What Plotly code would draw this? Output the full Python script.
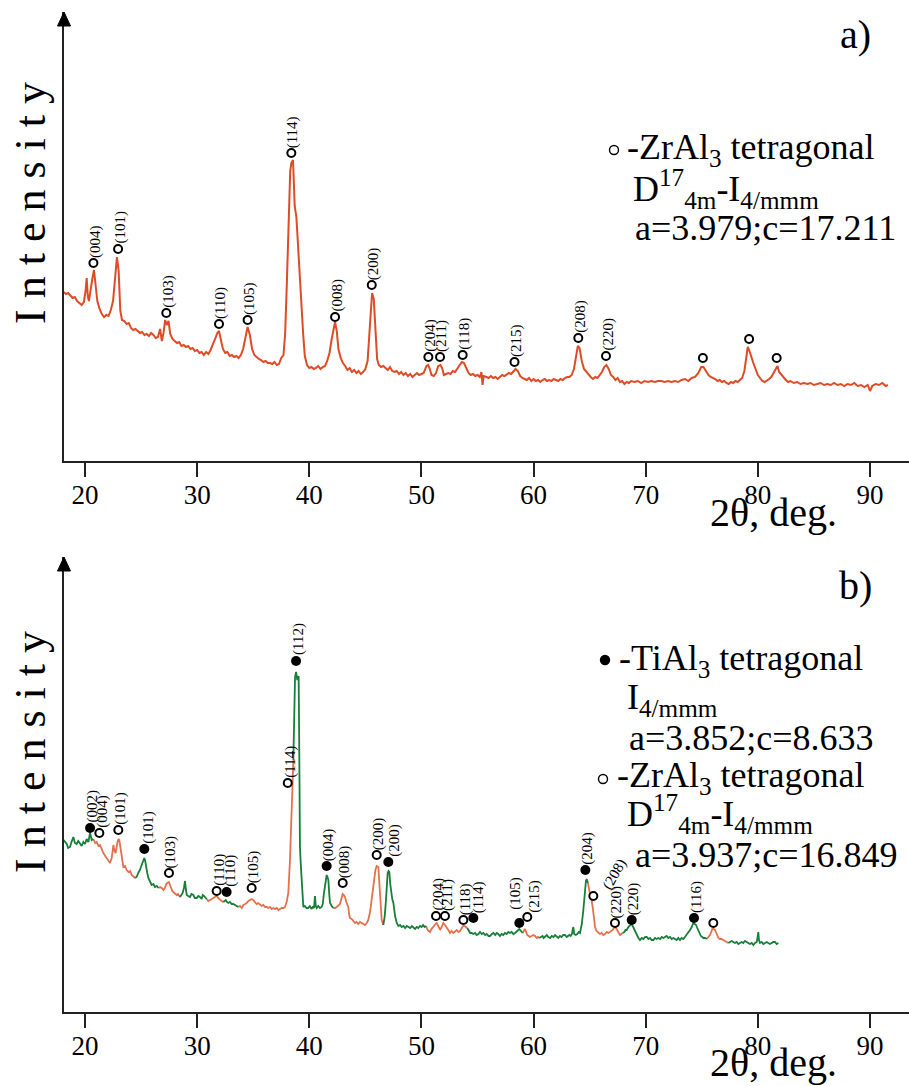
import plotly.graph_objects as go

W, H = 909, 1086

# ---------------- panel a) : ZrAl3 pattern ----------------
two_theta_a = [
    18.1, 18.3, 18.5, 18.7, 18.9, 19.1, 19.3, 19.5, 19.7, 19.9, 20.05, 20.15, 20.25, 20.35, 20.5, 20.65, 20.8,
    20.95, 21.1, 21.3, 21.5, 21.7, 21.9, 22.1, 22.3, 22.5, 22.7, 22.85, 23.0, 23.15, 23.3, 23.5, 23.7, 23.9,
    24.1, 24.3, 24.5, 24.7, 24.9, 25.1, 25.3, 25.5, 25.7, 25.9, 26.1, 26.3, 26.5, 26.7, 26.85, 27.0, 27.15,
    27.3, 27.45, 27.6, 27.8, 28.0, 28.2, 28.4, 28.6, 28.8, 29.0, 29.2, 29.4, 29.6, 29.8, 30.0, 30.2, 30.4,
    30.6, 30.8, 31.0, 31.2, 31.4, 31.6, 31.8, 31.95, 32.1, 32.3, 32.5, 32.7, 32.9, 33.1, 33.3, 33.5, 33.7,
    33.9, 34.1, 34.3, 34.5, 34.7, 34.9, 35.1, 35.3, 35.5, 35.7, 35.9, 36.1, 36.3, 36.5, 36.7, 36.9, 37.1,
    37.3, 37.5, 37.7, 37.85, 38.0, 38.1, 38.2, 38.3, 38.4, 38.55, 38.7, 38.85, 39.0, 39.15, 39.3, 39.45,
    39.6, 39.8, 40.0, 40.2, 40.4, 40.6, 40.8, 41.0, 41.2, 41.4, 41.6, 41.8, 42.0, 42.2, 42.3, 42.45, 42.6,
    42.8, 43.0, 43.2, 43.4, 43.6, 43.8, 44.0, 44.2, 44.4, 44.6, 44.8, 45.0, 45.2, 45.35, 45.5, 45.6, 45.75,
    45.9, 46.05, 46.2, 46.4, 46.6, 46.8, 47.0, 47.2, 47.4, 47.6, 47.8, 48.0, 48.2, 48.4, 48.6, 48.8, 49.0,
    49.2, 49.4, 49.6, 49.8, 50.0, 50.2, 50.45, 50.6, 50.75, 50.9, 51.1, 51.3, 51.5, 51.7, 51.85, 52.0, 52.2,
    52.4, 52.6, 52.8, 53.0, 53.2, 53.4, 53.6, 53.8, 54.0, 54.2, 54.4, 54.6, 54.8, 55.0, 55.2, 55.35, 55.45,
    55.55, 55.8, 56.0, 56.2, 56.4, 56.6, 56.8, 57.0, 57.2, 57.4, 57.6, 57.8, 58.0, 58.2, 58.4, 58.6, 58.8,
    59.0, 59.2, 59.4, 59.6, 59.8, 60.0, 60.2, 60.4, 60.6, 60.8, 61.0, 61.2, 61.4, 61.6, 61.8, 62.0, 62.2,
    62.4, 62.6, 62.8, 63.0, 63.2, 63.4, 63.6, 63.8, 63.95, 64.1, 64.3, 64.5, 64.7, 64.9, 65.1, 65.3, 65.5,
    65.7, 65.9, 66.1, 66.3, 66.5, 66.7, 66.9, 67.1, 67.3, 67.5, 67.7, 67.9, 68.1, 68.3, 68.5, 68.7, 69.0,
    69.3, 69.6, 69.9, 70.2, 70.5, 70.8, 71.1, 71.4, 71.7, 72.0, 72.3, 72.6, 72.9, 73.2, 73.5, 73.8, 74.1,
    74.4, 74.7, 74.95, 75.15, 75.35, 75.6, 75.8, 76.0, 76.2, 76.4, 76.6, 76.8, 77.0, 77.2, 77.4, 77.6, 77.8,
    78.0, 78.2, 78.4, 78.6, 78.8, 78.95, 79.1, 79.25, 79.4, 79.6, 79.8, 80.0, 80.2, 80.4, 80.6, 80.8, 81.0,
    81.2, 81.4, 81.6, 81.75, 81.9, 82.1, 82.3, 82.5, 82.7, 82.9, 83.2, 83.5, 83.8, 84.1, 84.4, 84.7, 85.0,
    85.3, 85.6, 85.9, 86.2, 86.5, 86.8, 87.1, 87.4, 87.7, 88.0, 88.3, 88.6, 88.9, 89.2, 89.5, 89.8, 90.0,
    90.2, 90.5, 90.8, 91.1, 91.4, 91.6,
]
intensity_a = [
    169, 167, 168, 165, 163, 164, 160, 158, 156, 159, 170, 183, 165, 160, 174, 182, 191,
    178, 160, 152, 147, 144, 146, 145, 151, 160, 185, 204, 190, 150, 141, 140, 137, 138,
    133, 131, 132, 130, 128, 129, 126, 127, 125, 128, 126, 123, 124, 132, 120, 128, 141,
    136, 140, 127, 122, 120, 118, 119, 115, 116, 114, 115, 112, 113, 110, 111, 108, 109,
    106, 109, 107, 111, 116, 122, 128, 130, 122, 112, 108, 109, 105, 106, 104, 105, 103,
    106, 112, 124, 134, 126, 112, 106, 104, 102, 101, 99, 100, 98, 98, 97, 99, 96,
    97, 103, 106, 128, 178, 215, 248, 290, 298, 301, 255, 244, 215, 185, 150, 128,
    105, 96, 93, 94, 92, 93, 95, 92, 94, 95, 100, 108, 122, 134, 139, 130, 112,
    103, 98, 95, 91, 93, 89, 91, 88, 90, 87, 89, 92, 100, 130, 160, 168, 162,
    130, 102, 96, 94, 95, 93, 91, 94, 90, 89, 90, 87, 89, 86, 88, 85, 87,
    84, 86, 88, 86, 87, 88, 95, 96, 92, 86, 85, 88, 95, 96, 93, 86, 87,
    88, 87, 90, 89, 92, 96, 99, 98, 93, 88, 86, 87, 85, 86, 84, 89, 76,
    85, 84, 83, 85, 83, 84, 82, 84, 86, 85, 87, 88, 87, 90, 92, 90, 85,
    83, 82, 81, 83, 80, 82, 80, 81, 79, 81, 82, 80, 81, 80, 82, 81, 80,
    82, 81, 83, 84, 84, 86, 92, 105, 115, 113, 100, 92, 89, 87, 84, 82, 84,
    83, 86, 89, 94, 96, 92, 86, 84, 81, 83, 79, 80, 77, 79, 78, 80, 79,
    80, 78, 80, 79, 80, 79, 80, 80, 79, 80, 79, 80, 79, 81, 82, 80, 83,
    84, 88, 94, 94, 90, 86, 84, 83, 82, 80, 81, 79, 80, 78, 77, 79, 78,
    80, 79, 81, 83, 90, 105, 114, 110, 104, 98, 92, 86, 83, 80, 79, 81, 82,
    84, 88, 93, 95, 89, 86, 83, 81, 79, 80, 78, 79, 77, 78, 77, 78, 76,
    77, 78, 76, 77, 76, 78, 76, 77, 75, 77, 76, 78, 75, 76, 74, 76, 70,
    75, 77, 76, 78, 75, 76,
]

# indexed ZrAl3 reflections of panel a)
peak_pos_a = [20.75, 22.95, 27.25, 31.95, 34.5, 38.4, 42.3, 45.57, 50.62, 51.66, 53.68, 58.3, 63.99, 66.46,
              75.1, 79.22, 81.68]
peak_level_a = [198, 212, 148, 137, 141, 308, 144, 176, 104, 104, 106, 99, 123, 105, 103, 122, 103]
peak_hkl_a = ["(004)", "(101)", "(103)", "(110)", "(105)", "(114)", "(008)", "(200)", "(204)", "(211)",
              "(118)", "(215)", "(208)", "(220)", "", "", ""]

# ---------------- panel b) : TiAl3 + ZrAl3 pattern ----------------
two_theta_b = [
    18.10, 18.22, 18.37, 18.5, 18.66, 18.8, 18.96, 19.1, 19.26, 19.4, 19.55, 19.7, 19.85, 20.0, 20.15, 20.3,
    20.45, 20.6, 20.74,
    20.9, 21.05, 21.2, 21.34, 21.5, 21.64, 21.8, 21.93, 22.08, 22.23, 22.38, 22.53, 22.63, 22.73, 22.88,
    22.98, 23.06, 23.21, 23.32, 23.42, 23.57, 23.72, 23.88, 24.03, 24.16, 24.3, 24.46,
    24.6, 24.75, 24.9, 25.02, 25.14, 25.29, 25.37, 25.44, 25.55, 25.65, 25.8, 25.94, 26.1, 26.24, 26.4, 26.54,
    26.7, 26.84, 27.0, 27.13, 27.24, 27.34, 27.49, 27.58, 27.67, 27.78, 27.88, 28.02, 28.17, 28.3, 28.47,
    28.6, 28.71, 28.82, 28.92, 29.0, 29.07, 29.2, 29.36, 29.5, 29.66, 29.8, 29.96, 30.1, 30.25, 30.4, 30.5,
    30.61, 30.73, 30.85,
    31.0, 31.15, 31.3, 31.44, 31.6, 31.74, 31.88, 32.04, 32.18, 32.33,
    32.45, 32.55, 32.66, 32.78, 32.92, 33.08, 33.22, 33.38, 33.5, 33.67,
    33.82, 33.98, 34.12, 34.28, 34.42, 34.57, 34.72, 34.86, 35.0, 35.16, 35.3, 35.45, 35.6, 35.75, 35.9,
    36.05, 36.2, 36.35, 36.5, 36.65, 36.79, 36.95, 37.1, 37.25, 37.39, 37.55, 37.7, 37.83, 37.98, 38.13,
    38.28, 38.43, 38.58,
    38.67, 38.73, 38.82, 38.88, 38.93, 39.0, 39.05, 39.1, 39.17, 39.25, 39.32, 39.4, 39.47, 39.6, 39.75,
    39.91, 40.05, 40.2, 40.3, 40.42, 40.51, 40.58, 40.66, 40.8, 40.95, 41.1, 41.2, 41.31, 41.42, 41.55,
    41.62, 41.7, 41.78, 41.85, 42.0, 42.14,
    42.3, 42.44, 42.6, 42.74, 42.86, 42.98, 43.08, 43.19, 43.3, 43.48, 43.55, 43.63, 43.78, 43.93, 44.08,
    44.22, 44.37, 44.52, 44.67, 44.82, 44.97, 45.12, 45.26, 45.42, 45.56, 45.67, 45.77, 45.9, 46.01, 46.08,
    46.16, 46.23, 46.31, 46.39, 46.46, 46.6,
    46.72, 46.84, 46.92, 46.99, 47.07, 47.14, 47.22, 47.29, 47.4, 47.5, 47.65, 47.8, 47.95, 48.1, 48.24,
    48.4, 48.55, 48.7, 48.83, 49.0, 49.15, 49.3, 49.43, 49.58, 49.72, 49.88, 50.02, 50.15, 50.28, 50.41,
    50.55, 50.66, 50.77, 50.9, 51.0, 51.12, 51.25, 51.36, 51.5, 51.66, 51.8, 51.95, 52.1, 52.25, 52.4,
    52.55, 52.7, 52.85, 52.99, 53.15, 53.3, 53.44, 53.6, 53.72, 53.82, 53.95, 54.09,
    54.25, 54.35, 54.48, 54.62, 54.78, 54.93, 55.08, 55.22, 55.38, 55.52, 55.68, 55.82, 55.98, 56.12,
    56.28, 56.42, 56.58, 56.71, 56.86, 57.0, 57.15, 57.3, 57.45, 57.6, 57.75, 57.9, 58.05, 58.2, 58.35,
    58.5, 58.62, 58.73, 58.88, 59.03,
    59.14, 59.24, 59.34, 59.44, 59.56, 59.68, 59.82, 59.98, 60.13, 60.28, 60.4, 60.51,
    60.65, 60.8, 60.9, 61.02, 61.18, 61.32, 61.48, 61.62, 61.78, 61.92, 62.06, 62.21, 62.35, 62.5, 62.65,
    62.8, 62.95, 63.1, 63.2, 63.31, 63.42, 63.5, 63.55, 63.62, 63.76, 63.9, 64.02, 64.14, 64.3, 64.44,
    64.52, 64.59, 64.67, 64.74, 64.8, 64.85,
    64.91, 64.97, 65.03, 65.09, 65.18, 65.27, 65.38, 65.48, 65.62, 65.77, 65.92, 66.07, 66.22, 66.37,
    66.52, 66.67, 66.85, 66.97, 67.06, 67.16, 67.26, 67.36, 67.47, 67.6, 67.71, 67.83, 67.95,
    68.1, 68.2, 68.3, 68.45, 68.6, 68.72, 68.8, 68.92, 69.05, 69.2, 69.35, 69.49, 69.65, 69.8, 69.95,
    70.09, 70.24, 70.38, 70.53, 70.68, 70.83, 70.98, 71.13, 71.28, 71.43, 71.58, 71.72, 71.87, 72.02,
    72.17, 72.32, 72.46, 72.61, 72.76, 72.91, 73.06, 73.2, 73.35, 73.5, 73.65, 73.8, 73.95, 74.1, 74.25,
    74.37, 74.49, 74.6, 74.7, 74.78, 74.92, 75.05, 75.14, 75.3, 75.44,
    75.58, 75.73, 75.84, 75.94, 76.06, 76.18, 76.3, 76.4, 76.48, 76.62, 76.77, 76.92, 77.07, 77.22, 77.37,
    77.52, 77.66, 77.81, 77.96, 78.11, 78.26, 78.41, 78.56, 78.7, 78.85, 79.0, 79.15, 79.3, 79.45, 79.6,
    79.75, 79.9, 79.97, 80.04, 80.1, 80.19, 80.34, 80.49, 80.64, 80.79, 80.93, 81.08, 81.23, 81.38, 81.53,
    81.68, 81.83,
]
intensity_b = [
    172, 170, 168, 164, 165, 170, 175, 169, 168, 171, 169, 166, 170, 168, 173, 170,
    179, 172, 173,
    169, 170, 166, 167, 162, 159, 156, 154, 151, 149, 154, 167, 161, 159, 169,
    173, 172, 159, 150, 145, 146, 142, 140, 141, 137, 136, 134,
    135, 139, 142, 146, 149, 154, 151, 145, 139, 134, 130, 127, 128, 125, 126, 124,
    125, 124, 122, 124, 128, 129, 130, 127, 124, 121, 120, 118, 117, 118, 115,
    117, 119, 124, 131, 122, 117, 116, 115, 118, 117, 114, 114, 116, 115, 113, 117,
    116, 114, 113,
    111, 112, 113, 114, 115, 116, 114, 112, 111, 110,
    111, 112, 110, 109, 110, 108, 108, 107, 106, 105,
    106, 104, 107, 108, 109, 111, 112, 113, 112, 110, 108, 109, 107, 106, 107,
    105, 105, 104, 105, 103, 104, 103, 104, 102, 103, 104, 104, 105, 110, 119,
    152, 212, 252,
    305, 335, 340, 336, 332, 334, 336, 272, 165, 146, 132, 118, 105, 106, 104,
    104, 106, 103, 105, 104, 116, 106, 104, 106, 104, 105, 108, 119, 128, 137,
    135, 132, 118, 109, 106, 104,
    104, 105, 107, 108, 113, 118, 117, 115, 110, 105, 98, 94, 93, 91, 89,
    90, 88, 90, 89, 88, 87, 89, 92, 100, 112, 122, 132, 142, 146, 145,
    145, 132, 119, 105, 92, 87,
    95, 112, 130, 139, 141, 140, 128, 119, 113, 109, 96, 89, 86, 87, 85,
    86, 84, 86, 85, 84, 86, 84, 83, 85, 84, 86, 85, 87, 85, 86,
    82, 81, 80, 83, 85, 86, 88, 89, 86, 82, 85, 89, 87, 85, 82,
    79, 81, 79, 80, 82, 80, 81, 84, 86, 86, 85, 84,
    81, 79, 79, 78, 79, 77, 78, 80, 78, 79, 77, 78, 76, 76,
    78, 79, 77, 79, 78, 76, 78, 77, 79, 78, 80, 79, 80, 78, 79,
    81, 82, 83, 81, 79,
    81, 83, 80, 77, 76, 75, 76, 77, 76, 74, 75, 74,
    75, 76, 74, 75, 77, 75, 74, 76, 75, 77, 75, 74, 76, 75, 77,
    77, 75, 76, 77, 76, 78, 83, 85, 78, 77, 78, 80, 79, 88, 102,
    115, 125, 131, 133, 131, 129,
    124, 119, 118, 117, 112, 105, 95, 85, 81, 79, 78, 79, 77, 78,
    80, 79, 80, 81, 82, 84, 85, 84, 81, 79, 77, 78, 79,
    80, 82, 82, 85, 87, 88, 87, 84, 80, 76, 74, 72, 74, 73, 75,
    75, 73, 74, 72, 72, 74, 73, 74, 73, 75, 74, 75, 76, 74,
    75, 73, 74, 73, 72, 74, 72, 74, 73, 75, 77, 79, 82, 85, 89,
    88, 87, 84, 81, 79, 76, 75, 74, 74, 73,
    75, 77, 80, 83, 83, 82, 79, 76, 74, 73, 73, 72, 71, 70, 69,
    70, 71, 70, 69, 70, 68, 69, 70, 69, 71, 70, 69, 68, 69, 67,
    69, 70, 74, 80, 72, 69, 70, 68, 69, 70, 69, 68, 69, 70, 70,
    68, 69,
]

# stretches of the pattern assigned to each phase (boundaries in 2-theta)
segment_edges_b = [18.10, 20.74, 24.46, 26.54, 28.47, 30.85, 32.33, 33.67, 38.58, 42.14, 46.6, 50.41,
                   54.09, 59.03, 60.51, 64.85, 67.95, 75.44, 77.37, 81.83]
segment_phase_b = ["TiAl3", "ZrAl3", "TiAl3", "ZrAl3", "TiAl3", "ZrAl3", "TiAl3", "ZrAl3", "TiAl3",
                   "ZrAl3", "TiAl3", "ZrAl3", "TiAl3", "ZrAl3", "TiAl3", "ZrAl3", "TiAl3", "ZrAl3",
                   "TiAl3"]

# indexed reflections of panel b)
peak_pos_b = [20.45, 21.28, 22.97, 25.29, 27.49, 31.74, 32.63, 34.86, 38.08, 38.82, 41.55, 42.98,
              46.01, 47.05, 51.3, 52.1, 53.74, 54.63, 58.73, 59.44, 64.62, 65.33, 67.26, 68.75,
              74.31, 76.03]
peak_level_b = [184, 179, 182, 163, 139, 121, 120, 124, 229, 351, 146, 129,
                157, 150, 96, 96, 92, 94, 89, 95, 142, 116, 89, 92,
                94, 89]
peak_hkl_b = ["(002)", "(004)", "(101)", "(101)", "(103)", "(110)", "(110)", "(105)", "(114)", "(112)",
              "(004)", "(008)", "(200)", "(200)", "(204)", "(211)", "(118)", "(114)", "(105)", "(215)",
              "(204)", "(208)", "(220)", "(220)", "(116)", ""]
peak_phase_b = ["TiAl3", "ZrAl3", "ZrAl3", "TiAl3", "ZrAl3", "ZrAl3", "TiAl3", "ZrAl3", "ZrAl3", "TiAl3",
                "TiAl3", "ZrAl3", "ZrAl3", "TiAl3", "ZrAl3", "ZrAl3", "ZrAl3", "TiAl3", "TiAl3", "ZrAl3",
                "TiAl3", "ZrAl3", "ZrAl3", "TiAl3", "TiAl3", "ZrAl3"]

tick_vals = [20, 30, 40, 50, 60, 70, 80, 90]

# ---------------- styling ----------------
SERIF = "Liberation Serif, Times New Roman, Times, serif"
RED_A = "#DE4B26"
ORANGE_B = "#E5704C"
GREEN_B = "#177F37"
phase_color = {"TiAl3": GREEN_B, "ZrAl3": ORANGE_B}

X_LEFT_PX = 64
PX_PER_DEG = 11.214
x_range = [20 - (85 - X_LEFT_PX) / PX_PER_DEG, 20 + (W - 85) / PX_PER_DEG]

# plot areas in pixels: (bottom, top)
area_a = (461, 12)
area_b = (1012, 557)


def py(y):
    return 1 - y / H


def px(x):
    return x / W


fig = go.Figure()

# panel a curve
fig.add_trace(go.Scatter(x=two_theta_a, y=intensity_a, mode="lines",
                         line=dict(color=RED_A, width=2), xaxis="x", yaxis="y",
                         showlegend=False, hoverinfo="skip"))

# panel b curve, split into phase-coloured stretches
for phase in ["ZrAl3", "TiAl3"]:
    xs, ys = [], []
    for i, ph in enumerate(segment_phase_b):
        if ph != phase:
            continue
        lo, hi = segment_edges_b[i], segment_edges_b[i + 1]
        for xv, yv in zip(two_theta_b, intensity_b):
            if lo - 1e-9 <= xv <= hi + 1e-9:
                xs.append(xv)
                ys.append(yv)
        xs.append(None)
        ys.append(None)
    fig.add_trace(go.Scatter(x=xs, y=ys, mode="lines", line=dict(color=phase_color[phase], width=1.8),
                             xaxis="x2", yaxis="y2", showlegend=False, hoverinfo="skip"))

open_marker = dict(symbol="circle", size=8, color="white", line=dict(color="black", width=2))
filled_marker = dict(symbol="circle", size=10, color="black", line=dict(color="black", width=0))

fig.add_trace(go.Scatter(x=peak_pos_a, y=peak_level_a, mode="markers", marker=open_marker,
                         xaxis="x", yaxis="y", showlegend=False, hoverinfo="skip"))

zr_x = [p for p, ph in zip(peak_pos_b, peak_phase_b) if ph == "ZrAl3"]
zr_y = [l for l, ph in zip(peak_level_b, peak_phase_b) if ph == "ZrAl3"]
ti_x = [p for p, ph in zip(peak_pos_b, peak_phase_b) if ph == "TiAl3"]
ti_y = [l for l, ph in zip(peak_level_b, peak_phase_b) if ph == "TiAl3"]
fig.add_trace(go.Scatter(x=zr_x, y=zr_y, mode="markers", marker=open_marker,
                         xaxis="x2", yaxis="y2", showlegend=False, hoverinfo="skip"))
fig.add_trace(go.Scatter(x=ti_x, y=ti_y, mode="markers", marker=filled_marker,
                         xaxis="x2", yaxis="y2", showlegend=False, hoverinfo="skip"))

annotations = []
label_font = dict(family=SERIF, size=15, color="black")

for pos, lvl, hkl in zip(peak_pos_a, peak_level_a, peak_hkl_a):
    if hkl:
        annotations.append(dict(x=pos, y=lvl, xref="x", yref="y", text=hkl, textangle=-90,
                                showarrow=False, xanchor="center", yanchor="bottom",
                                xshift=2, yshift=4, font=label_font, borderpad=0))

# per-label nudges where neighbouring reflections crowd together
label_nudge_b = {1: (3, 4), 3: (4, 4), 6: (3, 4), 9: (2, 5), 13: (6, 4), 17: (5, 4), 18: (-4, 12),
                 19: (7, 3)}
for i, (pos, lvl, hkl) in enumerate(zip(peak_pos_b, peak_level_b, peak_hkl_b)):
    if not hkl:
        continue
    dx, dy = label_nudge_b.get(i, (2, 4))
    ang = -90
    xa = "center"
    if hkl == "(208)":
        ang, dx, dy, xa = -60, 4, 2, "left"
    annotations.append(dict(x=pos, y=lvl, xref="x2", yref="y2", text=hkl, textangle=ang,
                            showarrow=False, xanchor=xa, yanchor="bottom",
                            xshift=dx, yshift=dy, font=label_font, borderpad=0))

big = dict(family=SERIF, color="black")

for y_mid in (203, 752):
    annotations.append(dict(x=px(30), y=py(y_mid), xref="paper", yref="paper", text="I n t e n s i t y",
                            textangle=-90, showarrow=False, xanchor="center", yanchor="middle",
                            font=dict(size=44, **big)))
for y_mid in (512, 1062):
    annotations.append(dict(x=px(773), y=py(y_mid), xref="paper", yref="paper", text="2θ, deg.",
                            showarrow=False, xanchor="center", yanchor="middle",
                            font=dict(size=40, **big), borderpad=0))
annotations.append(dict(x=px(855), y=py(35), xref="paper", yref="paper", text="a)",
                        showarrow=False, xanchor="center", yanchor="middle", font=dict(size=40, **big)))
annotations.append(dict(x=px(855), y=py(585), xref="paper", yref="paper", text="b)",
                        showarrow=False, xanchor="center", yanchor="middle", font=dict(size=40, **big)))

phase_lines = [
    (626, 150, "-ZrAl<sub>3</sub> tetragonal"),
    (632, 189, "D<sup>17</sup><sub>4m</sub>-I<sub>4/mmm</sub>"),
    (634, 228, "a=3.979;c=17.211"),
    (618, 660, "-TiAl<sub>3</sub> tetragonal"),
    (626, 699, "I<sub>4/mmm</sub>"),
    (628, 738, "a=3.852;c=8.633"),
    (616, 777, "-ZrAl<sub>3</sub> tetragonal"),
    (626, 814, "D<sup>17</sup><sub>4m</sub>-I<sub>4/mmm</sub>"),
    (634, 855, "a=3.937;c=16.849"),
]
for xl, ym, txt in phase_lines:
    annotations.append(dict(x=px(xl), y=py(ym), xref="paper", yref="paper", text=txt,
                            showarrow=False, xanchor="left", yanchor="middle",
                            font=dict(size=36, **big), borderpad=0))

shapes = []
# phase symbols beside the phase descriptions
for cx, cy, filled in [(614, 150, False), (605, 660, True), (603, 779, False)]:
    r = 4.5
    shapes.append(dict(type="circle", xref="paper", yref="paper",
                       x0=px(cx - r), x1=px(cx + r), y0=py(cy + r), y1=py(cy - r),
                       line=dict(color="black", width=1.4),
                       fillcolor="black" if filled else "white"))

# arrow heads on the intensity axes
for top in (area_a[1], area_b[1]):
    tip_x, half_w, head_h = X_LEFT_PX, 6.5, 14
    path = "M {} {} L {} {} L {} {} Z".format(
        px(tip_x), py(top), px(tip_x - half_w), py(top + head_h), px(tip_x + half_w), py(top + head_h))
    shapes.append(dict(type="path", xref="paper", yref="paper", path=path,
                       fillcolor="black", line=dict(color="black", width=1)))


def x_axis(anchor):
    return dict(domain=[X_LEFT_PX / W, 1], range=x_range, anchor=anchor, showline=True,
                linecolor="#222", linewidth=1.6, ticks="outside", ticklen=14, tickwidth=1.5,
                tickcolor="#222", tickvals=tick_vals, ticktext=[str(t) for t in tick_vals],
                tickfont=dict(family=SERIF, size=27, color="black"), ticklabelstandoff=-5,
                showgrid=False, zeroline=False, mirror=False)


def y_axis(anchor, area, top):
    return dict(domain=[py(area[0]), py(area[1])], range=[0, top], anchor=anchor, showline=True,
                linecolor="#222", linewidth=1.6, ticks="", showticklabels=False, showgrid=False,
                zeroline=False)


fig.update_layout(
    width=W, height=H, margin=dict(l=0, r=0, t=0, b=0),
    paper_bgcolor="white", plot_bgcolor="white",
    xaxis=x_axis("y"),
    yaxis=y_axis("x", area_a, 449),
    xaxis2=x_axis("y2"),
    yaxis2=y_axis("x2", area_b, 455),
    annotations=annotations, shapes=shapes, showlegend=False,
)

fig.write_html("out.html")
